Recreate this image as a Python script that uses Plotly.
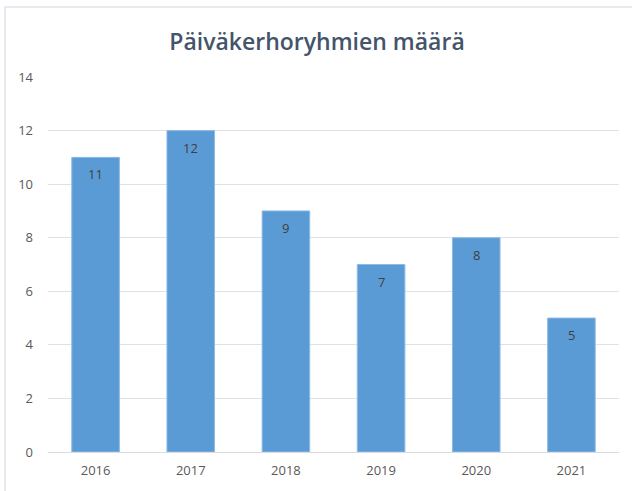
import plotly.graph_objects as go

years = ["2016", "2017", "2018", "2019", "2020", "2021"]
counts = [11, 12, 9, 7, 8, 5]
title_text = "Päiväkerhoryhmien määrä"
y_ticks = [0, 2, 4, 6, 8, 10, 12, 14]

fig = go.Figure(go.Bar(
    x=years, y=counts,
    marker=dict(color="#5B9BD5", line=dict(color="#8DBBE6", width=1)),
    width=0.5, hoverinfo="x+y",
))

# value labels just below each bar top (category index positions)
for i, v in enumerate(counts):
    fig.add_annotation(x=i, y=v, text=str(v), showarrow=False,
                       yanchor="middle", yshift=-17,
                       font=dict(family="Open Sans", size=13, color="#404040"))

W, H = 632, 491
l, r, t, b = 48, 13, 77, 39
pw, ph = W - l - r, H - t - b
fig.add_shape(type="rect", xref="paper", yref="paper",
              x0=(5 - l) / pw, x1=(W + 10 - l) / pw,
              y0=-(H + 10 - (H - b)) / ph, y1=1 + (t - 7) / ph,
              line=dict(color="#DFE3E9", width=1.5), layer="below")

fig.update_layout(
    width=W, height=H,
    margin=dict(l=l, r=r, t=t, b=b),
    paper_bgcolor="white", plot_bgcolor="white",
    title=dict(text=title_text, x=317 / W, xanchor="center",
               y=1 - 42 / H, yanchor="middle",
               font=dict(family="Open Sans", size=23, weight=600, color="#44546A")),
    showlegend=False,
    font=dict(family="Open Sans", size=12, color="#595959"),
    yaxis=dict(range=[0, 14], tickvals=y_ticks, showgrid=True, gridcolor="#DEE2E8",
               gridwidth=1, zeroline=False, showline=False, ticks="",
               ticklabelstandoff=14, tickfont=dict(size=13, color="#595959")),
    xaxis=dict(type="category", range=[-0.5, len(years) - 0.5],
               showline=True, linecolor="#D9DDE3", linewidth=1, ticks="",
               ticklabelstandoff=6, tickfont=dict(size=13, color="#595959")),
)

fig.write_html("out.html", config={"displayModeBar": False},
               post_script="document.body.style.margin='0';")
